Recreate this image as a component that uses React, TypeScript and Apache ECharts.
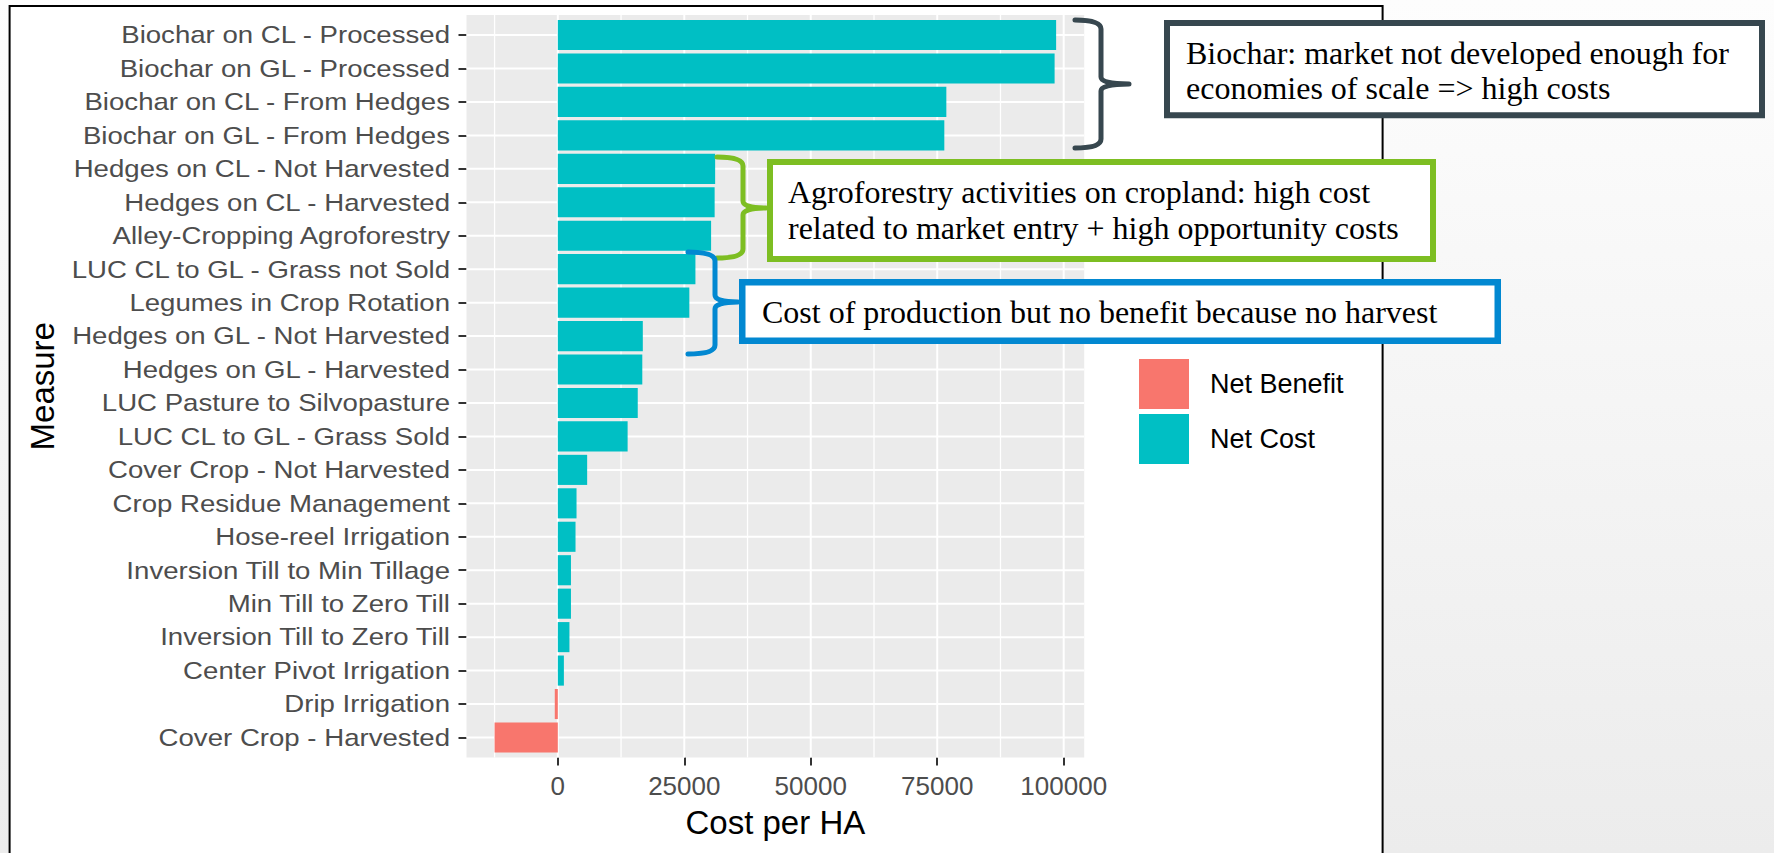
import React, { useEffect, useRef } from 'react';
import * as echarts from 'echarts';

// ---------------- data ----------------
const CATEGORIES = [
  'Biochar on CL - Processed',
  'Biochar on GL - Processed',
  'Biochar on CL - From Hedges',
  'Biochar on GL - From Hedges',
  'Hedges on CL - Not Harvested',
  'Hedges on CL - Harvested',
  'Alley-Cropping Agroforestry',
  'LUC CL to GL - Grass not Sold',
  'Legumes in Crop Rotation',
  'Hedges on GL - Not Harvested',
  'Hedges on GL - Harvested',
  'LUC Pasture to Silvopasture',
  'LUC CL to GL - Grass Sold',
  'Cover Crop - Not Harvested',
  'Crop Residue Management',
  'Hose-reel Irrigation',
  'Inversion Till to Min Tillage',
  'Min Till to Zero Till',
  'Inversion Till to Zero Till',
  'Center Pivot Irrigation',
  'Drip Irrigation',
  'Cover Crop - Harvested',
];

const NET_COST = [
  98500, 98200, 76800, 76400, 31100, 31000, 30300, 27200, 26000, 16800, 16700,
  15800, 13800, 5800, 3700, 3500, 2600, 2600, 2300, 1200, null, null,
];

const NET_BENEFIT = [
  null, null, null, null, null, null, null, null, null, null, null,
  null, null, null, null, null, null, null, null, null, -600, -12500,
];

const X_BREAKS = [0, 25000, 50000, 75000, 100000];
const X_MINOR_BREAKS = [-12500, 12500, 37500, 62500, 87500];
const LEGEND_NAMES = ['Net Benefit', 'Net Cost'];
const X_TITLE = 'Cost per HA';
const Y_TITLE = 'Measure';

const NOTE_BIOCHAR = ['Biochar: market not developed enough for', 'economies of scale => high costs'];
const NOTE_AGRO = ['Agroforestry activities on cropland: high cost', 'related to market entry + high opportunity costs'];
const NOTE_NOHARVEST = ['Cost of production but no benefit because no harvest'];

// ---------------- layout ----------------
const W = 1774;
const H = 853;
const GRID_LEFT = 466.5;
const GRID_WIDTH = 617.7;
const GRID_TOP = 18.3;
const GRID_HEIGHT = 735.9;
const BAND = GRID_HEIGHT / CATEGORIES.length;

const COL_COST = '#00BFC4';
const COL_BENEFIT = '#F8766D';
const COL_DARK = '#37474F';
const COL_GREEN = '#7DBE22';
const COL_BLUE = '#0288D1';

// ggplot-like 5% expansion of the data range
const allVals = [...NET_COST, ...NET_BENEFIT].filter((v) => v != null) as number[];
const dMin = Math.min(0, ...allVals);
const dMax = Math.max(0, ...allVals);
const pad = (dMax - dMin) * 0.05;
const X_MIN = dMin - pad;
const X_MAX = dMax + pad;

function bracePath(x0: number, xv: number, xt: number, yTop: number, yMid: number, yBot: number) {
  const r = 9;
  const r2 = 7;
  return (
    `M${x0} ${yTop} Q${xv} ${yTop} ${xv} ${yTop + r} ` +
    `L${xv} ${yMid - r2} Q${xv} ${yMid} ${xt} ${yMid} ` +
    `Q${xv} ${yMid} ${xv} ${yMid + r2} ` +
    `L${xv} ${yBot - r} Q${xv} ${yBot} ${x0} ${yBot}`
  );
}

echarts.graphic.registerShape('braceDark', echarts.graphic.extendPath(bracePath(1075, 1101, 1129, 20, 84, 148), {}));
echarts.graphic.registerShape('braceGreen', echarts.graphic.extendPath(bracePath(717, 743, 766, 157, 208, 258), {}));
echarts.graphic.registerShape('braceBlue', echarts.graphic.extendPath(bracePath(688, 715, 738, 252, 302, 354), {}));

function box(x: number, y: number, w: number, h: number, color: string, lw: number) {
  return {
    type: 'rect',
    z: 10,
    silent: true,
    shape: { x: x + lw / 2, y: y + lw / 2, width: w - lw, height: h - lw },
    style: { fill: '#FFFFFF', stroke: color, lineWidth: lw },
  };
}

function note(lines: string[], x: number, cy: number, lh: number) {
  return {
    type: 'text',
    z: 11,
    silent: true,
    x,
    y: cy,
    style: {
      text: lines.join('\n'),
      x: 0,
      y: 0,
      font: '32px "Liberation Serif"',
      fill: '#000000',
      align: 'left',
      textAlign: 'left',
      verticalAlign: 'middle',
      textVerticalAlign: 'middle',
      lineHeight: lh,
    },
  };
}

function brace(type: string, color: string) {
  return {
    type,
    z: 10,
    silent: true,
    style: { stroke: color, lineWidth: 5, fill: 'none', lineCap: 'round', lineJoin: 'round' },
  };
}

export default function App() {
  const ref = useRef<HTMLDivElement>(null);

  useEffect(() => {
    document.body.style.margin = '0';
    const el = ref.current;
    if (!el) return;
    const chart = echarts.init(el, null, { renderer: 'svg', width: W, height: H });

    const vLine = (lw: number) => (params: any, api: any) => {
      const x = api.coord([api.value(0), 0])[0];
      const cs = params.coordSys;
      const ext = (0.1 * cs.height) / CATEGORIES.length;
      return {
        type: 'line',
        shape: { x1: x, y1: cs.y - ext, x2: x, y2: cs.y + cs.height + ext },
        style: { stroke: '#FFFFFF', lineWidth: lw },
      };
    };

    const option: any = {
      animation: false,
      textStyle: { fontFamily: 'Liberation Sans' },
      grid: {
        left: GRID_LEFT,
        top: GRID_TOP,
        width: GRID_WIDTH,
        height: GRID_HEIGHT,
        containLabel: false,
        outerBoundsMode: 'none',
      },
      legend: {
        data: LEGEND_NAMES,
        orient: 'vertical',
        left: 1139,
        top: 359,
        padding: 0,
        itemWidth: 50,
        itemHeight: 50,
        itemGap: 5,
        icon: 'rect',
        selectedMode: false,
        textStyle: { fontSize: 27, color: '#000000', fontFamily: 'Liberation Sans', padding: [0, 0, 0, 16] },
      },
      xAxis: {
        type: 'value',
        min: X_MIN,
        max: X_MAX,
        offset: 0.1 * BAND,
        axisLine: { show: false, onZero: false },
        splitLine: { show: false },
        axisTick: { show: true, length: 8, customValues: X_BREAKS, lineStyle: { color: '#333333', width: 2 } },
        axisLabel: {
          customValues: X_BREAKS,
          fontSize: 26,
          color: '#4D4D4D',
          fontFamily: 'Liberation Sans',
          margin: 15,
          formatter: (v: number) => String(v),
        },
        name: X_TITLE,
        nameLocation: 'middle',
        nameGap: 48,
        nameTextStyle: { fontSize: 33, color: '#000000', fontFamily: 'Liberation Sans' },
      },
      yAxis: {
        type: 'category',
        data: CATEGORIES,
        inverse: true,
        axisLine: { show: false, onZero: false },
        splitLine: { show: false },
        axisTick: { show: true, alignWithLabel: true, interval: 0, length: 8, lineStyle: { color: '#333333', width: 2 } },
        axisLabel: { show: false, interval: 0 },
        name: Y_TITLE,
        nameLocation: 'middle',
        nameRotate: 90,
        nameGap: 408,
        nameTextStyle: { fontSize: 33, color: '#000000', fontFamily: 'Liberation Sans' },
      },
      graphic: {
        elements: [
          {
            type: 'rect',
            z: 0,
            silent: true,
            shape: { x: 9.6, y: 6, width: 1373, height: 900 },
            style: { fill: '#FFFFFF', stroke: '#000000', lineWidth: 2 },
          },
          {
            type: 'rect',
            z: 0,
            silent: true,
            shape: { x: GRID_LEFT, y: GRID_TOP - 0.1 * BAND, width: GRID_WIDTH, height: GRID_HEIGHT + 0.2 * BAND },
            style: { fill: '#EBEBEB' },
          },
          brace('braceDark', COL_DARK),
          brace('braceGreen', COL_GREEN),
          brace('braceBlue', COL_BLUE),
          box(1164, 20, 601, 98.3, COL_DARK, 6),
          box(767, 159, 669, 103, COL_GREEN, 6),
          box(739, 279, 762, 65, COL_BLUE, 6.5),
          note(NOTE_BIOCHAR, 1186, 70, 35),
          note(NOTE_AGRO, 788, 210, 36),
          note(NOTE_NOHARVEST, 762, 312, 36),
        ],
      },
      series: [
        {
          type: 'custom',
          name: 'minor-grid',
          z: 1,
          silent: true,
          clip: false,
          data: X_MINOR_BREAKS.map((v) => [v, 0]),
          renderItem: vLine(1.3),
        },
        {
          type: 'custom',
          name: 'major-grid',
          z: 1,
          silent: true,
          clip: false,
          data: X_BREAKS.map((v) => [v, 0]),
          renderItem: vLine(2),
        },
        {
          type: 'custom',
          name: 'category-grid',
          z: 1,
          silent: true,
          clip: false,
          data: CATEGORIES.map((_, i) => [0, i]),
          renderItem: (params: any, api: any) => {
            const i = api.value(1);
            const y = api.coord([0, i])[1];
            const cs = params.coordSys;
            return {
              type: 'group',
              children: [
                {
                  type: 'line',
                  shape: { x1: cs.x, y1: y, x2: cs.x + cs.width, y2: y },
                  style: { stroke: '#FFFFFF', lineWidth: 2 },
                },
                {
                  type: 'text',
                  x: cs.x - 16.5,
                  y,
                  scaleX: 1.15,
                  style: {
                    text: CATEGORIES[i],
                    x: 0,
                    y: 0,
                    fill: '#4D4D4D',
                    font: '24px "Liberation Sans"',
                    align: 'right',
                    textAlign: 'right',
                    verticalAlign: 'middle',
                    textVerticalAlign: 'middle',
                  },
                },
              ],
            };
          },
        },
        {
          type: 'bar',
          name: LEGEND_NAMES[0],
          z: 3,
          data: NET_BENEFIT.map((v) => (v == null ? '-' : v)),
          barWidth: '90%',
          barGap: '-100%',
          itemStyle: { color: COL_BENEFIT },
        },
        {
          type: 'bar',
          name: LEGEND_NAMES[1],
          z: 3,
          data: NET_COST.map((v) => (v == null ? '-' : v)),
          barWidth: '90%',
          barGap: '-100%',
          itemStyle: { color: COL_COST },
        },
      ],
    };

    chart.setOption(option);
    return () => chart.dispose();
  }, []);

  return (
    <div
      ref={ref}
      style={{
        position: 'fixed',
        left: 0,
        top: 0,
        width: W,
        height: H,
        background: 'linear-gradient(180deg, #fdfdfd 0%, #ececec 100%)',
      }}
    />
  );
}
